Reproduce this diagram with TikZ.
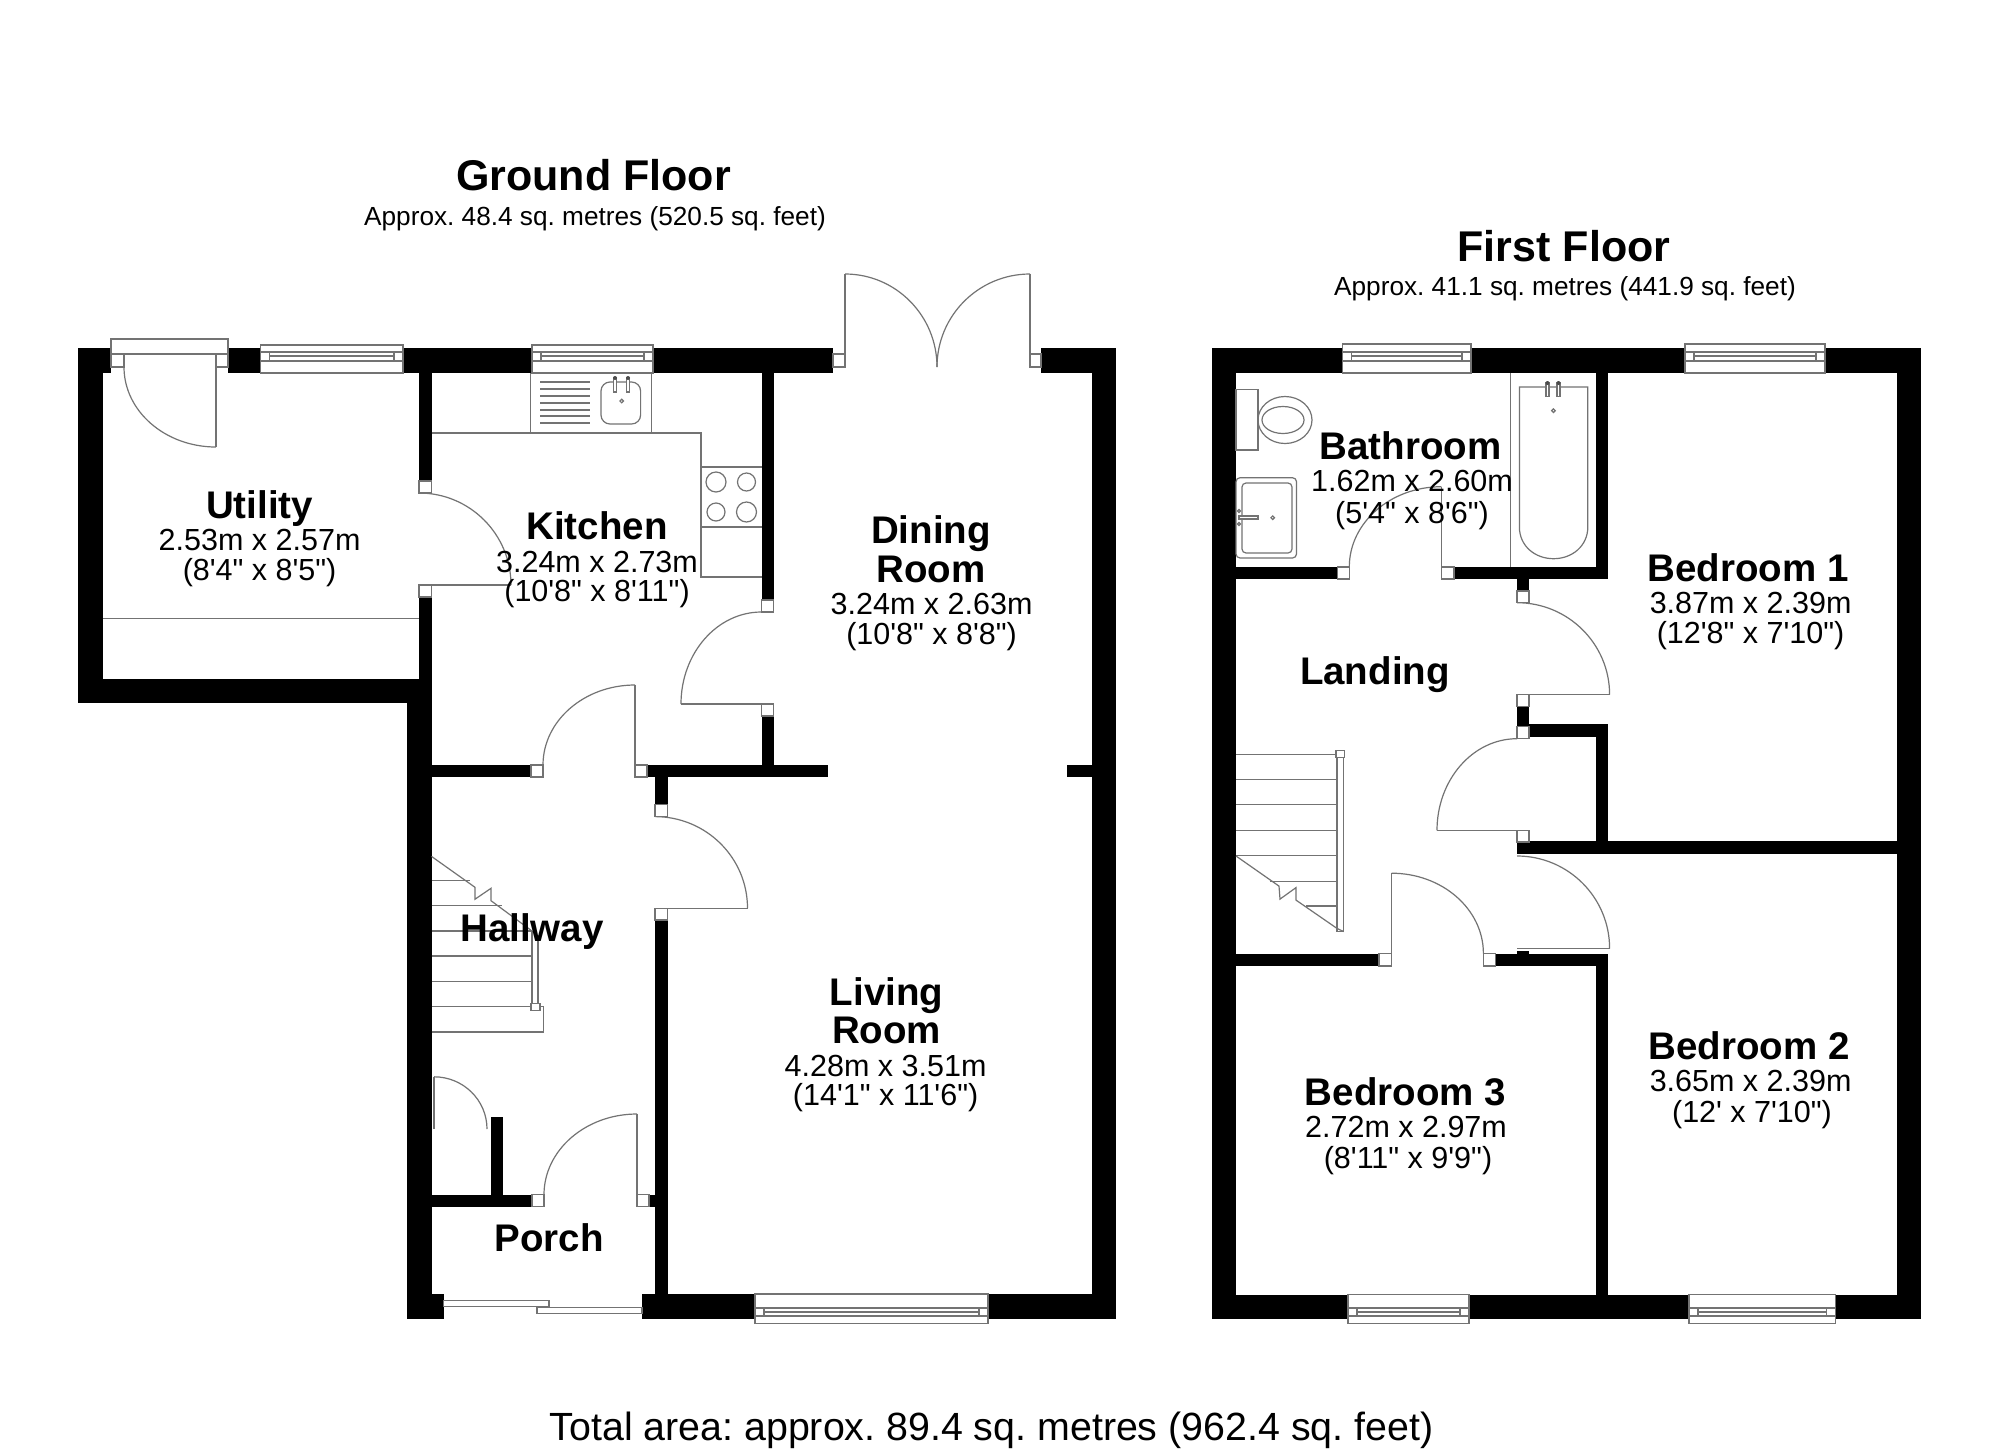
\documentclass[tikz,border=0pt]{standalone}
\usepackage{fontspec}
\setmainfont{Liberation Sans}
\newfontfamily\lsans{Liberation Sans}
\usetikzlibrary{calc}
\newcommand{\wallrect}[4]{\fill[black] (#1,#2) rectangle (#3,#4);}
\newcommand{\jamb}[4]{\draw[fitline,fill=white] (#1,#2) rectangle (#3,#4);}
\newcommand{\leafline}[4]{\draw[fitline] (#1,#2) -- (#3,#4);}
\newcommand{\swing}[6]{\draw[fitline] (#1,#2) .. controls ($(#1,#2)!0.5523!(#3,#4)$) and ($(#5,#6)!0.5523!(#3,#4)$) .. (#5,#6);}
\newcommand{\winbox}[7]{%
  \draw[fitline,fill=white] (#1,#3) rectangle (#2,#7);
  \draw[fitline] (#1,#4) -- (#2,#4) (#1,#6) -- (#2,#6);
  \draw[fitline] ($(#1,#4)+(9,0)$) -- ($(#1,#6)+(9,0)$) ($(#2,#4)+(-9,0)$) -- ($(#2,#6)+(-9,0)$);
  \draw[fitline] ($(#1,#5)+(9,0)$) -- ($(#2,#5)+(-9,0)$);}
\tikzset{
  fitline/.style={draw=black!55,line width=1.2pt},
  titletext/.style={anchor=base,inner sep=0pt,font=\lsans\frenchspacing\fontsize{43}{45}\selectfont\bfseries},
  nametext/.style={anchor=base,inner sep=0pt,font=\lsans\frenchspacing\fontsize{38.5}{40}\selectfont\bfseries},
  dimtext/.style={anchor=base,inner sep=0pt,font=\lsans\frenchspacing\fontsize{30.5}{32}\selectfont},
  subtext/.style={anchor=base,inner sep=0pt,font=\lsans\frenchspacing\fontsize{26.2}{29}\selectfont},
  totaltext/.style={anchor=base,inner sep=0pt,font=\lsans\frenchspacing\fontsize{39.35}{41}\selectfont}
}
\begin{document}
\begin{tikzpicture}[x=1pt,y=-1pt]
\useasboundingbox (0,0) rectangle (2000,1454);
\fill[white] (0,0) rectangle (2000,1454);
% ---------- ground floor walls
\wallrect{78}{348}{111}{373}
\wallrect{78}{348}{103}{703}
\wallrect{228}{348}{260.5}{373}
\wallrect{403}{348}{532}{373}
\wallrect{653}{348}{833}{373}
\wallrect{1041}{348}{1116}{373}
\wallrect{1092}{348}{1116}{1319}
\wallrect{78}{679}{431.5}{703}
\wallrect{406.5}{679}{431.5}{1319}
\wallrect{419}{373}{431.5}{481}
\wallrect{419}{597}{431.5}{703}
\wallrect{431.5}{765}{531}{777}
\wallrect{647}{765}{827.5}{777}
\wallrect{1067}{765}{1092}{777}
\wallrect{761.5}{373}{773.5}{600}
\wallrect{761.5}{716}{773.5}{765}
\wallrect{655}{777}{667.5}{804.7}
\wallrect{655}{920}{667.5}{1294}
\wallrect{431.5}{1194.7}{532}{1206.7}
\wallrect{649}{1194.7}{655}{1206.7}
\wallrect{490.6}{1117}{503}{1194.7}
\wallrect{406.5}{1294}{443.5}{1319}
\wallrect{642}{1294}{755}{1319}
\wallrect{988}{1294}{1116}{1319}
% ---------- ground floor windows
\winbox{260.5}{403}{345}{352}{356}{361}{373}
\winbox{532}{653}{345}{352}{356}{361}{373}
\winbox{755}{988}{1294}{1308}{1312}{1316}{1323.6}
% ---------- back door of utility
\draw[fitline,fill=white] (111,339) rectangle (228,354);
\jamb{111}{354}{124}{367}
\jamb{216}{354}{228}{367}
\leafline{216}{367}{216}{447}
\swing{124}{367}{124}{447}{216}{447}
% ---------- utility/kitchen door
\jamb{419}{481}{431.5}{493}
\jamb{419}{585}{431.5}{597}
\swing{419}{493}{511}{493}{511}{585}
\leafline{431.5}{585}{511}{585}
\draw[fitline] (103,618.7) -- (419,618.7);
% ---------- kitchen/dining door
\jamb{761.5}{600}{773.5}{612}
\jamb{761.5}{704}{773.5}{716}
\swing{761.5}{612}{681}{612}{681}{704}
\leafline{681}{704}{761.5}{704}
% ---------- hall/kitchen door
\jamb{531}{765}{543}{777}
\jamb{635}{765}{647}{777}
\leafline{635}{685}{635}{765}
\swing{543}{765}{543}{685}{635}{685}
% ---------- hall/living door
\jamb{655}{804.7}{667.5}{816.6}
\jamb{655}{908.2}{667.5}{920}
\swing{655}{816.6}{747.5}{816.6}{747.5}{908.2}
\leafline{667.5}{908.2}{747.5}{908.2}
% ---------- porch door
\jamb{532}{1194.7}{544}{1206.7}
\jamb{637}{1194.7}{649}{1206.7}
\leafline{637}{1114}{637}{1194.7}
\swing{544}{1194.7}{544}{1114}{637}{1114}
% ---------- cupboard door
\leafline{434}{1076.8}{434}{1129}
\swing{434}{1076.8}{487}{1076.8}{487}{1129}
% ---------- sliding door
\draw[fitline,fill=white] (443.5,1300.5) rectangle (549,1306.5);
\draw[fitline,fill=white] (537,1307.2) rectangle (642,1313.1);
% ---------- french doors
\jamb{833}{354}{845}{367}
\jamb{1030}{354}{1041}{367}
\leafline{845}{274}{845}{354}
\leafline{1030}{274}{1030}{354}
\swing{845}{274}{937}{274}{937}{367}
\swing{1030}{274}{937}{274}{937}{367}
% ---------- kitchen fittings
\draw[fitline] (431.5,433) -- (701,433) -- (701,577) -- (761.5,577);
\draw[fitline] (701,467) -- (761.5,467) (701,527) -- (761.5,527);
\draw[fitline] (716,482) circle[radius=10] (746.5,482) circle[radius=9] (716,512) circle[radius=9] (746.5,512) circle[radius=10];
\draw[fitline] (530.6,373) -- (530.6,433) (651.5,373) -- (651.5,433);
\foreach \yy in {382,389,396,403,410,416,423} {\draw[fitline] (540,\yy) -- (590,\yy);}
\draw[fitline,rounded corners=9pt] (601,382) rectangle (640.6,424);
\draw[fitline,fill=white] (613.5,378) rectangle (616.5,392);
\draw[fitline,fill=white] (626.5,378) rectangle (629.5,392);
\fill[black!70] (615,378) circle[radius=2] (628,378) circle[radius=2];
\draw[fitline] (621.7,401) circle[radius=1.8];
% ---------- ground stairs
\foreach \yy in {931,956,981.8,1006.7,1032} {\draw[fitline] (431.5,\yy) -- (532,\yy);}
\draw[fitline] (431.5,880.8) -- (470,880.8) (431.5,905.7) -- (502,905.7);
\draw[fitline] (532,1032) -- (543.5,1032) -- (543.5,1006.7) -- (538,1006.7);
\draw[fitline] (431.5,856.4) -- (475,887.3) -- (475,899.2) -- (491,888.3) -- (491,900.7) -- (532,931);
\draw[fitline] (532,931) -- (532,1003.7) (538,935) -- (538,1003.7);
\draw[fitline,fill=white] (531,1003.7) rectangle (540,1010.6);
% ---------- first floor walls
\wallrect{1211.6}{348}{1342.5}{373}
\wallrect{1471}{348}{1685}{373}
\wallrect{1825}{348}{1921}{373}
\wallrect{1211.6}{348}{1236}{1319}
\wallrect{1896.5}{348}{1921}{1319}
\wallrect{1211.6}{1294.6}{1348}{1319}
\wallrect{1469}{1294.6}{1689}{1319}
\wallrect{1835.5}{1294.6}{1921}{1319}
\wallrect{1596}{373}{1608}{579}
\wallrect{1236}{567}{1337.7}{579}
\wallrect{1454}{567}{1608}{579}
\wallrect{1517}{579}{1529}{591}
\wallrect{1517}{706.7}{1529}{726.7}
\wallrect{1529}{724}{1608}{736.5}
\wallrect{1596}{724}{1608}{842}
\wallrect{1517}{841}{1896.5}{853.6}
\wallrect{1236}{953.5}{1379}{966}
\wallrect{1495.7}{953.5}{1608}{966}
\wallrect{1596}{953.5}{1608}{1294.6}
\wallrect{1517}{951.2}{1529}{953.5}
% ---------- first floor windows
\winbox{1342.5}{1471}{344}{352}{356}{361}{373}
\winbox{1685}{1825}{344}{352}{356}{361}{373}
\winbox{1348}{1469}{1294.6}{1308}{1312}{1316}{1323.4}
\winbox{1689}{1835.5}{1294.6}{1308}{1312}{1316}{1323.4}
% ---------- bathroom door
\jamb{1337.7}{567}{1349.3}{579}
\jamb{1441.4}{567}{1454}{579}
\leafline{1441.4}{486.7}{1441.4}{567}
\swing{1349.3}{567}{1349.3}{486.7}{1441.4}{486.7}
% ---------- bedroom 1 door
\jamb{1517}{591}{1529}{602.7}
\jamb{1517}{694.7}{1529}{706.7}
\swing{1517}{602.7}{1609.6}{602.7}{1609.6}{694.7}
\leafline{1529}{694.7}{1609.6}{694.7}
% ---------- cupboard door, landing
\jamb{1517}{726.7}{1529}{738.7}
\jamb{1517}{830.4}{1529}{842}
\swing{1517}{738.7}{1437}{738.7}{1437}{830.4}
\leafline{1437}{830.4}{1517}{830.4}
% ---------- bedroom 2 door
\swing{1517}{856}{1609.6}{856}{1609.6}{948.5}
\leafline{1517}{948.5}{1609.6}{948.5}
% ---------- bedroom 3 door
\jamb{1379}{953.5}{1391.5}{966}
\jamb{1483.4}{953.5}{1495.7}{966}
\leafline{1391.5}{873.2}{1391.5}{953.5}
\swing{1391.5}{873.2}{1483.4}{873.2}{1483.4}{953.5}
% ---------- first floor stairs
\foreach \yy in {754.4,779.7,804.6,830.4,855.3} {\draw[fitline] (1236,\yy) -- (1337,\yy);}
\draw[fitline] (1270,881.2) -- (1337,881.2) (1306,906) -- (1337,906);
\draw[fitline] (1236,856) -- (1279,886.1) -- (1280,899.1) -- (1296,887.6) -- (1296,900.1) -- (1337,928.4) -- (1343.5,931.5);
\draw[fitline] (1337,756.8) -- (1337,931.5) -- (1343.5,931.5) -- (1343.5,756.8);
\draw[fitline,fill=white] (1336,750.4) rectangle (1344.5,757.6);
% ---------- toilet
\draw[fitline] (1285,420) ellipse[x radius=27,y radius=23.5];
\draw[fitline,fill=white] (1236,389.7) rectangle (1258,450);
\draw[fitline] (1283,420) ellipse[x radius=21,y radius=13.5];
% ---------- basin
\draw[fitline,rounded corners=4pt] (1236,477.7) rectangle (1296.5,558);
\draw[fitline,rounded corners=4pt] (1242,483) rectangle (1292,553);
\draw[fitline,fill=white] (1239,516) rectangle (1258,519);
\draw[fitline] (1239,511) circle[radius=1.5] (1239,524) circle[radius=1.5] (1272.7,517.7) circle[radius=1.8];
% ---------- bath
\draw[fitline] (1510.7,373) -- (1510.7,567);
\draw[fitline] (1519.4,527) -- (1519.4,387) -- (1587.8,387) -- (1587.8,527) .. controls (1587.8,546) and (1572,558.7) .. (1553.6,558.7) .. controls (1535,558.7) and (1519.4,546) .. (1519.4,527);
\draw[fitline,fill=white] (1546,383) rectangle (1549,396.7);
\draw[fitline,fill=white] (1557,383) rectangle (1560,396.7);
\fill[black!70] (1547.5,383) circle[radius=2] (1558.5,383) circle[radius=2];
\draw[fitline] (1553.4,410.7) circle[radius=1.8];
% ---------- titles
\node[titletext] (gftitle) at (593.5,190) {Ground Floor};
\node[subtext] (gfsub) at (595,225) {Approx. 48.4 sq. metres (520.5 sq. feet)};
\node[titletext] (fftitle) at (1564,261) {First Floor};
\node[subtext] (ffsub) at (1565,295) {Approx. 41.1 sq. metres (441.9 sq. feet)};
\node[totaltext] (total) at (991.5,1440) {Total area: approx. 89.4 sq. metres (962.4 sq. feet)};
% ---------- room labels
\node[nametext] (utility) at (259.6,518.5) {Utility};
\node[dimtext] (utilitya) at (259.6,550) {2.53m x 2.57m};
\node[dimtext] (utilityb) at (259.6,580) {(8'4" x 8'5")};
\node[nametext] (kitchen) at (597,539) {Kitchen};
\node[dimtext] (kitchena) at (597,572) {3.24m x 2.73m};
\node[dimtext] (kitchenb) at (597,601) {(10'8" x 8'11")};
\node[nametext] (dining) at (931,543) {Dining};
\node[nametext] (diningr) at (931,582.5) {Room};
\node[dimtext] (dininga) at (931.6,614) {3.24m x 2.63m};
\node[dimtext] (diningb) at (931.6,644) {(10'8" x 8'8")};
\node[nametext] (living) at (886.6,1005) {Living};
\node[nametext] (livingr) at (886.6,1043) {Room};
\node[dimtext] (livinga) at (885.6,1076) {4.28m x 3.51m};
\node[dimtext] (livingb) at (885.6,1105) {(14'1" x 11'6")};
\node[nametext] (hallway) at (532,941) {Hallway};
\node[nametext] (porch) at (549,1251.5) {Porch};
\node[nametext] (bathroom) at (1410.5,459) {Bathroom};
\node[dimtext] (bathrooma) at (1412,491) {1.62m x 2.60m};
\node[dimtext] (bathroomb) at (1412,523) {(5'4" x 8'6")};
\node[nametext] (landing) at (1374.9,684) {Landing};
\node[nametext] (bedonea) at (1748,581) {Bedroom 1};
\node[dimtext] (bedoneb) at (1750.6,613) {3.87m x 2.39m};
\node[dimtext] (bedonec) at (1750.6,643) {(12'8" x 7'10")};
\node[nametext] (bedtwoa) at (1749,1059) {Bedroom 2};
\node[dimtext] (bedtwob) at (1750.6,1091) {3.65m x 2.39m};
\node[dimtext] (bedtwoc) at (1752,1122) {(12' x 7'10")};
\node[nametext] (bedthreea) at (1405.5,1105) {Bedroom 3};
\node[dimtext] (bedthreeb) at (1406,1137) {2.72m x 2.97m};
\node[dimtext] (bedthreec) at (1408,1168) {(8'11" x 9'9")};
\end{tikzpicture}
\end{document}
